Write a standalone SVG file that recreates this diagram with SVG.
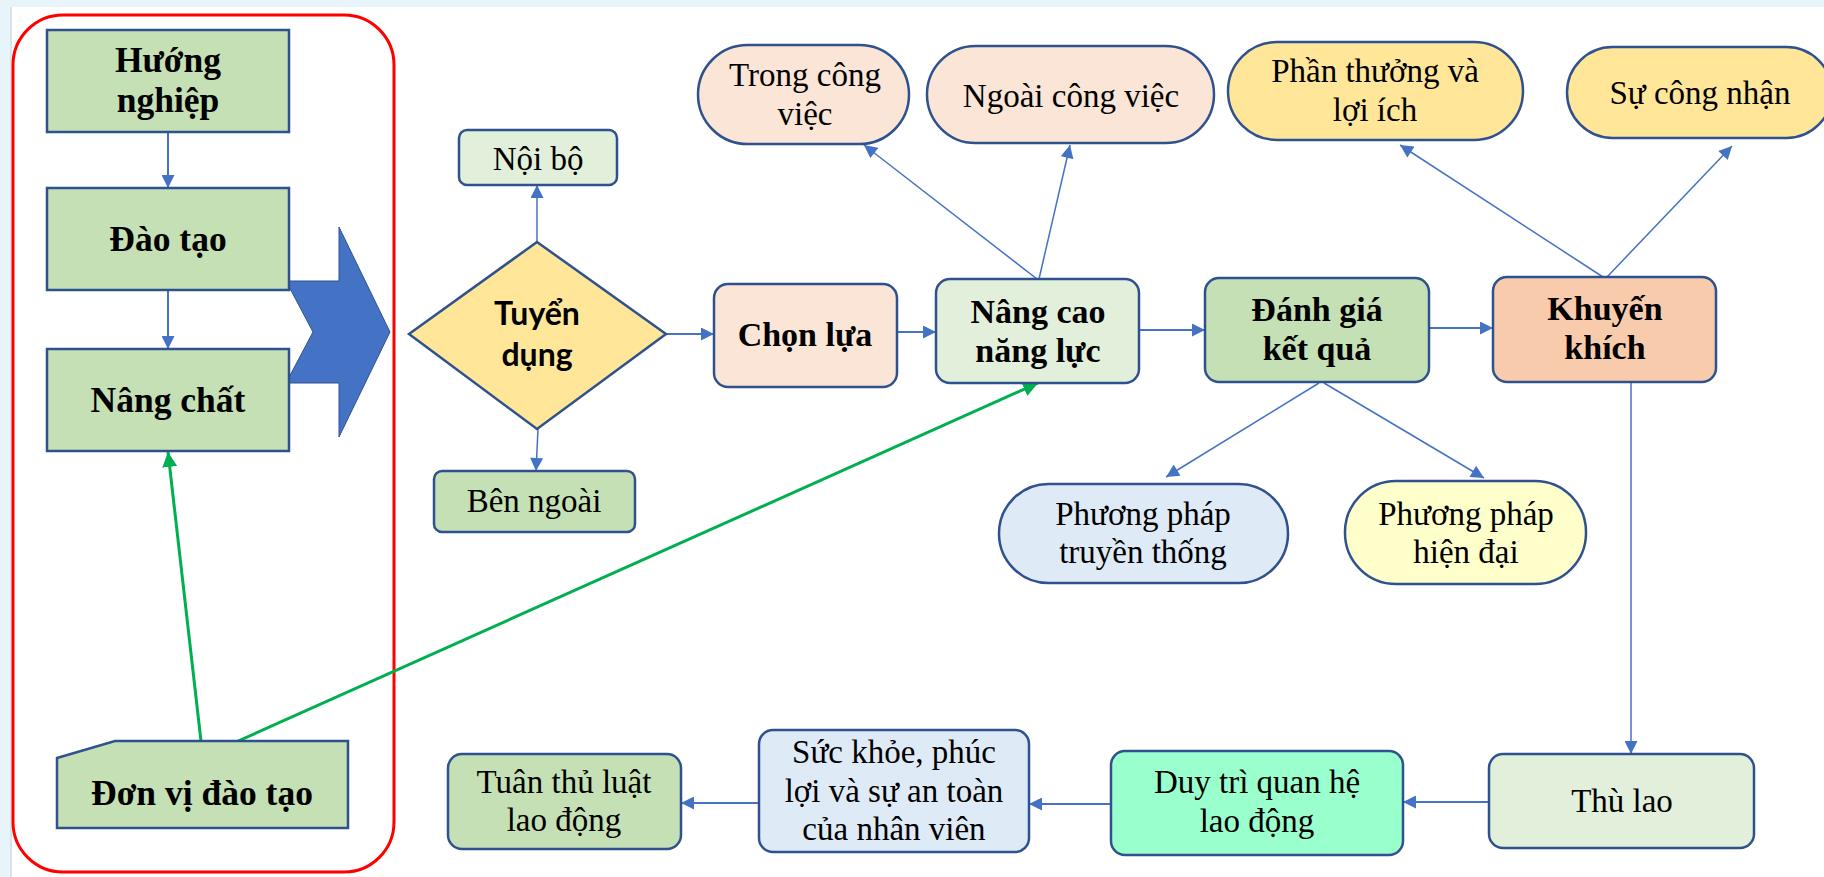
<svg xmlns="http://www.w3.org/2000/svg" width="1824" height="877" viewBox="0 0 1824 877">
<defs>
<style>
.n{stroke:#2f528f;stroke-width:2.5}
.t{font-family:"Liberation Serif","Times New Roman",serif;font-size:33px;fill:#000;text-anchor:middle}
.b{font-family:"Liberation Serif","Times New Roman",serif;font-size:34px;font-weight:bold;fill:#000;text-anchor:middle}
.l{font-size:35.5px}
.s{font-family:Lato,"Liberation Sans",sans-serif;font-size:32px;font-weight:bold;fill:#000;text-anchor:middle}
.c{stroke:#4472c4;stroke-width:1.5;fill:none;marker-end:url(#ab)}
.h{stroke:#4472c4;stroke-width:2;fill:none;marker-end:url(#ab)}
.g{stroke:#00b050;stroke-width:3;fill:none;marker-end:url(#ag)}
</style>
<marker id="ab" markerUnits="userSpaceOnUse" viewBox="0 0 14 14" refX="14" refY="7" markerWidth="14" markerHeight="13" orient="auto"><path d="M0,0 L14,7 L0,14 z" fill="#4472c4"/></marker>
<marker id="ag" markerUnits="userSpaceOnUse" viewBox="0 0 15 15" refX="15" refY="7.5" markerWidth="15" markerHeight="15" orient="auto"><path d="M0,0 L15,7.5 L0,15 z" fill="#00b050"/></marker>
</defs>
<rect x="0" y="0" width="1824" height="877" fill="#e7f4fa"/>
<rect x="11" y="7" width="1813" height="870" fill="#ffffff"/>
<line x1="11" y1="7" x2="11" y2="877" stroke="#d3dde3" stroke-width="1.5"/>

<g id="panel">
<rect x="13" y="15" width="381" height="857" rx="50" fill="none" stroke="#ff0000" stroke-width="3"/>
</g>
<g id="bigarrow">
<polygon points="286,281 339,281 339,227 390,332 339,437 339,383 286,383 313,332" fill="#4472c4" stroke="#2f528f" stroke-width="1"/>
</g>

<g id="connectors">
<line x1="168" y1="132" x2="168" y2="188" class="h" stroke-width="2.5"/>
<line x1="168" y1="290" x2="168" y2="349" class="h" stroke-width="2.5"/>
<line x1="201" y1="741" x2="168" y2="452" class="g"/>
<line x1="227" y1="746" x2="1038" y2="383" class="g"/>
<line x1="537" y1="242" x2="537" y2="185" class="c"/>
<line x1="538" y1="429" x2="536" y2="471" class="c"/>
<line x1="666" y1="334" x2="714" y2="334" class="h"/>
<line x1="897" y1="332" x2="936" y2="332" class="h"/>
<line x1="1139" y1="330" x2="1205" y2="330" class="h"/>
<line x1="1429" y1="328" x2="1493" y2="328" class="h"/>
<line x1="1037" y1="279" x2="864" y2="145" class="c"/>
<line x1="1039" y1="279" x2="1070" y2="145" class="c"/>
<line x1="1603" y1="277" x2="1400" y2="145" class="c"/>
<line x1="1607" y1="277" x2="1732" y2="146" class="c"/>
<line x1="1319" y1="383" x2="1166" y2="477" class="c"/>
<line x1="1324" y1="383" x2="1484" y2="478" class="c"/>
<line x1="1631" y1="382" x2="1631" y2="754" class="c"/>
<line x1="1489" y1="802" x2="1403" y2="802" class="h"/>
<line x1="1111" y1="804" x2="1029" y2="804" class="h"/>
<line x1="759" y1="803" x2="681" y2="803" class="h"/>
</g>

<g id="huong-nghiep">
<rect x="47" y="30" width="242" height="102" fill="#c5e0b4" class="n"/>
<text class="b l" x="168" y="72">Hướng</text>
<text class="b l" x="168" y="112">nghiệp</text>
</g>
<g id="dao-tao">
<rect x="47" y="188" width="242" height="102" fill="#c5e0b4" class="n"/>
<text class="b l" x="168" y="251">Đào tạo</text>
</g>
<g id="nang-chat">
<rect x="47" y="349" width="242" height="102" fill="#c5e0b4" class="n"/>
<text class="b l" x="168" y="412">Nâng chất</text>
</g>
<g id="don-vi">
<polygon points="57,758 115,741 348,741 348,828 57,828" fill="#c5e0b4" class="n"/>
<text class="b l" x="202" y="805">Đơn vị đào tạo</text>
</g>

<g id="tuyen-dung">
<polygon points="409,334 537,242 666,334 537,429" fill="#ffe699" class="n"/>
<text class="s" x="537" y="325">Tuyển</text>
<text class="s" x="537" y="366">dụng</text>
</g>
<g id="noi-bo">
<rect x="459" y="130" width="158" height="55" rx="8" fill="#e2efda" class="n"/>
<text class="t" x="538" y="170">Nội bộ</text>
</g>
<g id="ben-ngoai">
<rect x="434" y="471" width="201" height="61" rx="8" fill="#c5e0b4" class="n"/>
<text class="t" x="534" y="512">Bên ngoài</text>
</g>
<g id="chon-lua">
<rect x="714" y="284" width="183" height="103" rx="14" fill="#fbe5d6" class="n"/>
<text class="b" x="805" y="346">Chọn lựa</text>
</g>
<g id="trong-cong-viec">
<rect x="698" y="45" width="211" height="99" rx="49.5" fill="#fbe5d6" class="n"/>
<text class="t" x="805" y="86">Trong công</text>
<text class="t" x="805" y="125">việc</text>
</g>
<g id="ngoai-cong-viec">
<rect x="927" y="46" width="287" height="97" rx="48.5" fill="#fbe5d6" class="n"/>
<text class="t" x="1071" y="107">Ngoài công việc</text>
</g>
<g id="nang-cao">
<rect x="936" y="279" width="203" height="104" rx="14" fill="#e2efda" class="n"/>
<text class="b" x="1038" y="323">Nâng cao</text>
<text class="b" x="1038" y="362">năng lực</text>
</g>
<g id="danh-gia">
<rect x="1205" y="278" width="224" height="104" rx="14" fill="#c5e0b4" class="n"/>
<text class="b" x="1317" y="321">Đánh giá</text>
<text class="b" x="1317" y="360">kết quả</text>
</g>
<g id="khuyen-khich">
<rect x="1493" y="277" width="223" height="105" rx="14" fill="#f8cbad" class="n"/>
<text class="b" x="1605" y="320">Khuyến</text>
<text class="b" x="1605" y="359">khích</text>
</g>
<g id="phan-thuong">
<rect x="1228" y="42" width="295" height="98" rx="49" fill="#ffe699" class="n"/>
<text class="t" x="1375" y="82">Phần thưởng và</text>
<text class="t" x="1375" y="121">lợi ích</text>
</g>
<g id="su-cong-nhan">
<rect x="1567" y="47" width="265" height="91" rx="45.5" fill="#ffe699" class="n"/>
<text class="t" x="1700" y="104">Sự công nhận</text>
</g>
<g id="pp-truyen-thong">
<rect x="999" y="484" width="289" height="99" rx="49.5" fill="#deebf7" class="n"/>
<text class="t" x="1143" y="525">Phương pháp</text>
<text class="t" x="1143" y="563">truyền thống</text>
</g>
<g id="pp-hien-dai">
<rect x="1345" y="481" width="241" height="103" rx="51" fill="#ffffcc" class="n"/>
<text class="t" x="1466" y="525">Phương pháp</text>
<text class="t" x="1466" y="563">hiện đại</text>
</g>
<g id="thu-lao">
<rect x="1489" y="754" width="265" height="94" rx="14" fill="#e2efda" class="n"/>
<text class="t" x="1622" y="812">Thù lao</text>
</g>
<g id="duy-tri">
<rect x="1111" y="751" width="292" height="104" rx="14" fill="#99ffcc" class="n"/>
<text class="t" x="1257" y="793">Duy trì quan hệ</text>
<text class="t" x="1257" y="832">lao động</text>
</g>
<g id="suc-khoe">
<rect x="759" y="730" width="270" height="122" rx="14" fill="#deebf7" class="n"/>
<text class="t" x="894" y="763">Sức khỏe, phúc</text>
<text class="t" x="894" y="802">lợi và sự an toàn</text>
<text class="t" x="894" y="840">của nhân viên</text>
</g>
<g id="tuan-thu">
<rect x="448" y="754" width="233" height="95" rx="14" fill="#c5e0b4" class="n"/>
<text class="t" x="564" y="793">Tuân thủ luật</text>
<text class="t" x="564" y="831">lao động</text>
</g>
</svg>
